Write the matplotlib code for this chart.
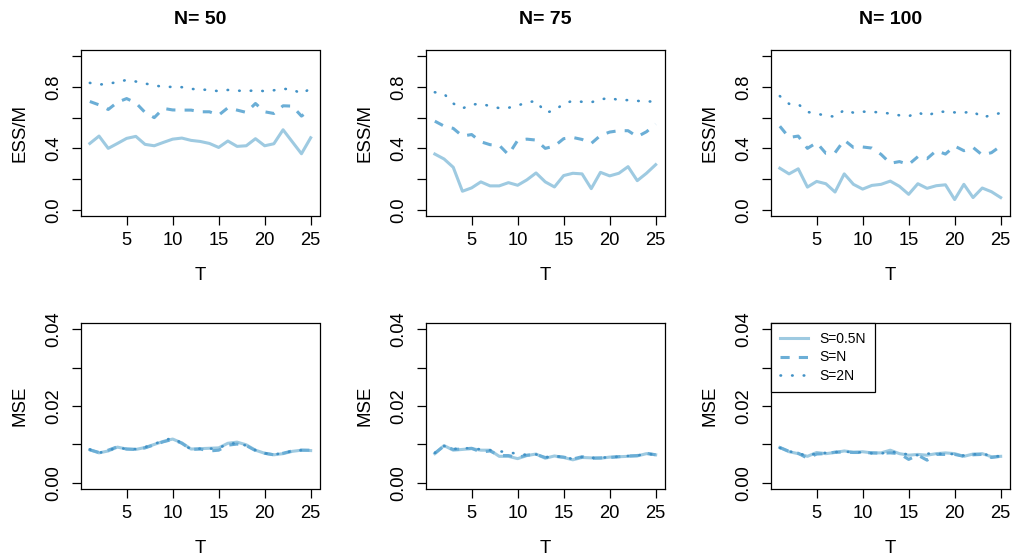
import matplotlib
matplotlib.use("Agg")
import matplotlib.pyplot as plt
import numpy as np

plt.rcParams["font.family"] = ["Liberation Sans", "DejaVu Sans"]

T = np.arange(1, 26)
Ns = [50, 75, 100]

# ESS/M, one list per S setting and N
ess_half = {
    50: [0.432, 0.48, 0.40, 0.432, 0.465, 0.478, 0.426, 0.417, 0.439, 0.46, 0.467, 0.452, 0.445,
         0.432, 0.406, 0.448, 0.413, 0.417, 0.463, 0.417, 0.43, 0.521, 0.443, 0.365, 0.469],
    75: [0.363, 0.331, 0.277, 0.121, 0.143, 0.182, 0.156, 0.156, 0.177, 0.16, 0.195, 0.24, 0.182,
         0.149, 0.223, 0.238, 0.234, 0.138, 0.244, 0.221, 0.238, 0.281, 0.19, 0.238, 0.294],
    100: [0.271, 0.234, 0.267, 0.148, 0.185, 0.17, 0.116, 0.234, 0.166, 0.135, 0.159, 0.166, 0.187,
          0.153, 0.101, 0.17, 0.14, 0.157, 0.163, 0.067, 0.166, 0.08, 0.142, 0.118, 0.08],
}
ess_one = {
    50: [0.705, 0.683, 0.653, 0.70, 0.724, 0.696, 0.634, 0.60, 0.66, 0.65, 0.649, 0.649, 0.638,
         0.638, 0.616, 0.664, 0.649, 0.634, 0.692, 0.638, 0.627, 0.677, 0.675, 0.61, 0.653],
    75: [0.577, 0.545, 0.53, 0.48, 0.49, 0.443, 0.424, 0.42, 0.359, 0.452, 0.46, 0.454, 0.40,
         0.415, 0.463, 0.471, 0.458, 0.432, 0.484, 0.506, 0.515, 0.515, 0.476, 0.508, 0.558],
    100: [0.544, 0.471, 0.48, 0.40, 0.437, 0.368, 0.372, 0.454, 0.406, 0.409, 0.402, 0.361, 0.303,
          0.314, 0.295, 0.346, 0.333, 0.385, 0.363, 0.415, 0.385, 0.406, 0.357, 0.372, 0.415],
}
ess_two = {
    50: [0.826, 0.815, 0.82, 0.832, 0.845, 0.835, 0.822, 0.81, 0.80, 0.80, 0.798, 0.787, 0.783,
         0.78, 0.772, 0.78, 0.776, 0.772, 0.778, 0.772, 0.778, 0.787, 0.785, 0.755, 0.79],
    75: [0.765, 0.755, 0.692, 0.66, 0.685, 0.69, 0.675, 0.662, 0.664, 0.679, 0.698, 0.709, 0.634,
         0.644, 0.692, 0.709, 0.703, 0.70, 0.718, 0.729, 0.714, 0.714, 0.709, 0.705, 0.705],
    100: [0.74, 0.69, 0.688, 0.637, 0.626, 0.613, 0.606, 0.65, 0.632, 0.639, 0.637, 0.634, 0.626,
          0.615, 0.609, 0.634, 0.611, 0.637, 0.639, 0.634, 0.632, 0.641, 0.60, 0.617, 0.63],
}

# MSE
mse_half = {
    50: [0.0086, 0.0078, 0.0083, 0.0093, 0.0088, 0.0087, 0.0092, 0.0100, 0.0108, 0.0114, 0.0104, 0.0088, 0.0089,
         0.0090, 0.0091, 0.0103, 0.0106, 0.0099, 0.0085, 0.0077, 0.0073, 0.0076, 0.0082, 0.0085, 0.0084],
    75: [0.0076, 0.0097, 0.0085, 0.0087, 0.0089, 0.0085, 0.0085, 0.0069, 0.0069, 0.0063, 0.0071, 0.0075, 0.0064,
         0.0070, 0.0066, 0.0060, 0.0066, 0.0065, 0.0064, 0.0067, 0.0068, 0.0069, 0.0070, 0.0076, 0.0073],
    100: [0.0092, 0.0081, 0.0076, 0.0069, 0.0079, 0.0076, 0.0079, 0.0083, 0.0080, 0.0081, 0.0078, 0.0078, 0.0085,
          0.0076, 0.0072, 0.0074, 0.0072, 0.0076, 0.0078, 0.0076, 0.0069, 0.0075, 0.0076, 0.0068, 0.0069],
}
mse_one = {
    50: [0.0086, 0.0079, 0.0085, 0.0094, 0.0088, 0.0087, 0.0091, 0.0099, 0.0107, 0.0113, 0.0103, 0.0087, 0.0088,
         0.0083, 0.0085, 0.0098, 0.0101, 0.0097, 0.0084, 0.0077, 0.0073, 0.0077, 0.0083, 0.0085, 0.0085],
    75: [0.0077, 0.0096, 0.0087, 0.0088, 0.0090, 0.0080, 0.0083, 0.0071, 0.0071, 0.0066, 0.0072, 0.0074, 0.0066,
         0.0069, 0.0067, 0.0062, 0.0068, 0.0064, 0.0065, 0.0066, 0.0068, 0.0070, 0.0071, 0.0077, 0.0073],
    100: [0.0092, 0.0082, 0.0077, 0.0064, 0.0075, 0.0076, 0.0080, 0.0080, 0.0079, 0.0079, 0.0078, 0.0077, 0.0078,
          0.0076, 0.0061, 0.0072, 0.0059, 0.0074, 0.0074, 0.0074, 0.0069, 0.0073, 0.0074, 0.0066, 0.0069],
}
mse_two = {
    50: [0.0087, 0.0078, 0.0084, 0.0092, 0.0088, 0.0088, 0.0093, 0.0101, 0.0110, 0.0117, 0.0103, 0.0087, 0.0089,
         0.0089, 0.0090, 0.0102, 0.0103, 0.0097, 0.0085, 0.0077, 0.0074, 0.0077, 0.0083, 0.0085, 0.0084],
    75: [0.0078, 0.0096, 0.0088, 0.0090, 0.0090, 0.0087, 0.0085, 0.0082, 0.0080, 0.0075, 0.0073, 0.0074, 0.0066,
         0.0070, 0.0067, 0.0062, 0.0067, 0.0065, 0.0065, 0.0067, 0.0068, 0.0070, 0.0071, 0.0076, 0.0073],
    100: [0.0091, 0.0082, 0.0077, 0.0070, 0.0077, 0.0078, 0.0080, 0.0081, 0.0080, 0.0079, 0.0077, 0.0076, 0.0082,
          0.0077, 0.0074, 0.0072, 0.0076, 0.0076, 0.0075, 0.0075, 0.0071, 0.0074, 0.0076, 0.0070, 0.0069],
}

labels = ["S=0.5N", "S=N", "S=2N"]
colors = ["#9ecae1", "#6baed6", "#4292c6"]
styles = ["-", (0, (3, 3)), (0, (0.2, 4.2))]
widths = [2.2, 2.2, 1.9]

W, H = 1016, 559
fig = plt.figure(figsize=(W / 100, H / 100), dpi=100)

lefts = [81, 426, 771]
aw = 238.5
rows = [(50, 216), (323, 489)]

def style_axes(ax, ylab):
    for s in ax.spines.values():
        s.set_linewidth(0.9)
    ax.set_xlim(0.04, 25.96)
    ax.set_xticks([5, 10, 15, 20, 25])
    ax.tick_params(axis="both", length=6.5, width=0.9, labelsize=13.2, direction="out")
    ax.tick_params(axis="x", pad=5)
    ax.tick_params(axis="y", pad=7, labelrotation=90)
    for lab in ax.get_yticklabels():
        lab.set_va("center")
    ax.set_xlabel("T", fontsize=13.4)
    ax.xaxis.set_label_coords(0.5, -0.305)
    ax.xaxis.label.set_va("top")
    ax.set_ylabel(ylab, fontsize=13.4)
    ax.yaxis.set_label_coords(-0.22, 0.5)

for j, n in enumerate(Ns):
    # top row: ESS/M
    top, bot = rows[0]
    ax = fig.add_axes([lefts[j] / W, 1 - bot / H, aw / W, (bot - top) / H])
    for ser, c, ls, lw, lab in zip([ess_half, ess_one, ess_two], colors, styles, widths, labels):
        ax.plot(T, ser[n], color=c, linestyle=ls, linewidth=lw, dash_capstyle="round" if lab == "S=2N" else "butt", label=lab)
    ax.set_ylim(-0.04, 1.04)
    ax.set_yticks([0, 0.2, 0.4, 0.6, 0.8, 1.0])
    ax.set_yticklabels(["0.0", "", "0.4", "", "0.8", ""])
    style_axes(ax, "ESS/M")
    ax.set_title("N= %d" % n, fontsize=14, fontweight="bold", pad=19)

    # bottom row: MSE
    top, bot = rows[1]
    ax = fig.add_axes([lefts[j] / W, 1 - bot / H, aw / W, (bot - top) / H])
    for ser, c, ls, lw, lab in zip([mse_half, mse_one, mse_two], colors, styles, widths, labels):
        ax.plot(T, ser[n], color=c, linestyle=ls, linewidth=lw, dash_capstyle="round" if lab == "S=2N" else "butt", label=lab)
    ax.set_ylim(-0.0016, 0.0416)
    ax.set_yticks([0, 0.01, 0.02, 0.03, 0.04])
    ax.set_yticklabels(["0.00", "", "0.02", "", "0.04"])
    style_axes(ax, "MSE")
    if n == 100:
        leg = ax.legend(loc="upper left", bbox_to_anchor=(0, 1), borderaxespad=0, fontsize=10,
                        fancybox=False, edgecolor="black", framealpha=1, handlelength=2.0,
                        handletextpad=0.84, borderpad=0.65, labelspacing=0.32)
        leg.get_frame().set_linewidth(0.9)

fig.savefig("out.png", dpi=100)
